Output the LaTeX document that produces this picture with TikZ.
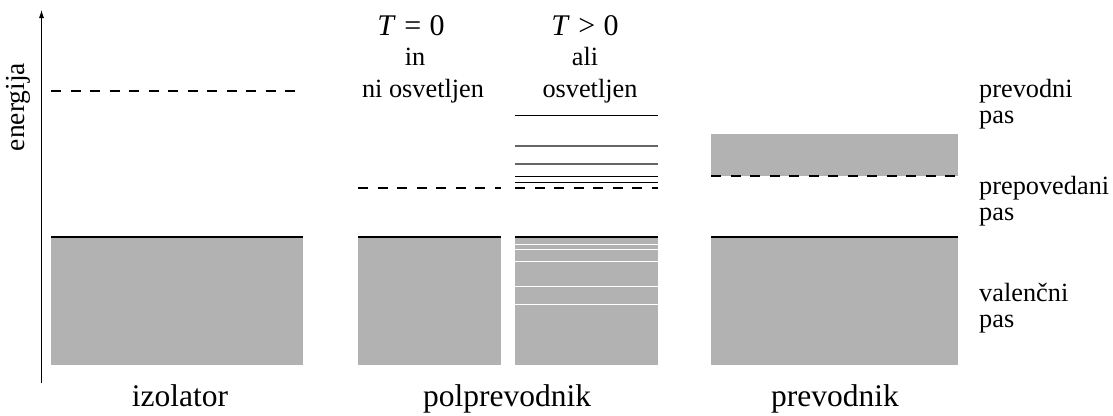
\documentclass[tikz,border=0pt]{standalone}
\usepackage{fontspec}
\setmainfont{Liberation Serif}
\usetikzlibrary{arrows.meta}
\begin{document}
\begin{tikzpicture}[x=1pt,y=-1pt,
  band/.style={fill=black!30,draw=none},
  edge/.style={line width=2pt},
  gapline/.style={line width=2pt,dash pattern=on 10pt off 9.5pt},
  level/.style={line width=0.8pt},
  faint/.style={line width=1.1pt,black!60},
  hole/.style={white,line width=0.9pt},
  lbl/.style={font=\fontsize{26.3}{30}\selectfont,inner sep=0pt},
  cond/.style={font=\fontsize{30}{34}\selectfont,inner sep=0pt},
  title/.style={font=\fontsize{31.5}{36}\selectfont,inner sep=0pt}]
\useasboundingbox (0,0) rectangle (1113,415);

% energy axis
\coordinate (axb) at (41.5,383);
\coordinate (axt) at (41.5,10);
\draw[line width=0.8pt,-{Latex[length=8pt,width=5pt]}] (axb) -- (axt);
\node[lbl,font=\fontsize{27.5}{30}\selectfont,rotate=90] (en) at (18,107) {energija};

% insulator
\fill[band] (51,237) rectangle (303,365);
\draw[edge] (51,237) -- (303,237);
\draw[gapline] (51,91) -- (296,91);

% semiconductor, T = 0
\fill[band] (358,237) rectangle (501,365);
\draw[edge] (358,237) -- (501,237);
\draw[gapline] (358,188.3) -- (501,188.3);

% semiconductor, T > 0 or lit
\fill[band] (515,237) rectangle (658,365);
\foreach \y in {244,249.3,261,286,304}
  \draw[hole] (515,\y) -- (658,\y);
\draw[edge] (515,237) -- (658,237);
\draw[gapline] (515,188.3) -- (658,188.3);
\draw[level] (515,115.7) -- (658,115.7);
\draw[faint] (515,146) -- (658,146);
\draw[faint] (515,164) -- (658,164);
\draw[level] (515,176) -- (658,176);
\draw[level] (515,182) -- (658,182);

% conductor
\fill[band] (711,134) rectangle (958,176);
\draw[gapline] (711,176) -- (958,176);
\fill[band] (711,237) rectangle (958,365);
\draw[edge] (711,237) -- (958,237);

% column headings
\node[cond,anchor=base] (t0a) at (411,35) {\textit{T}\hspace{0.28em}=\hspace{0.28em}0};
\node[lbl,anchor=base] (t0b) at (415,65) {in};
\node[lbl,anchor=base] (t0c) at (423,97) {ni osvetljen};
\node[cond,anchor=base] (t1a) at (585,35) {\textit{T}\hspace{0.28em}>\hspace{0.28em}0};
\node[lbl,anchor=base] (t1b) at (585,65) {ali};
\node[lbl,anchor=base] (t1c) at (590,97) {osvetljen};

% band names
\node[lbl,anchor=base west] (cb1) at (979,97) {prevodni};
\node[lbl,anchor=base west] (cb2) at (979,123) {pas};
\node[lbl,anchor=base west] (fg1) at (979,194) {prepovedani};
\node[lbl,anchor=base west] (fg2) at (979,220) {pas};
\node[lbl,anchor=base west] (vb1) at (979,301) {valenčni};
\node[lbl,anchor=base west] (vb2) at (979,327) {pas};

% material names
\node[title,anchor=base] (ins) at (180,406) {izolator};
\node[title,anchor=base] (semi) at (507,406) {polprevodnik};
\node[title,anchor=base] (cond) at (835,406) {prevodnik};
\end{tikzpicture}
\end{document}
